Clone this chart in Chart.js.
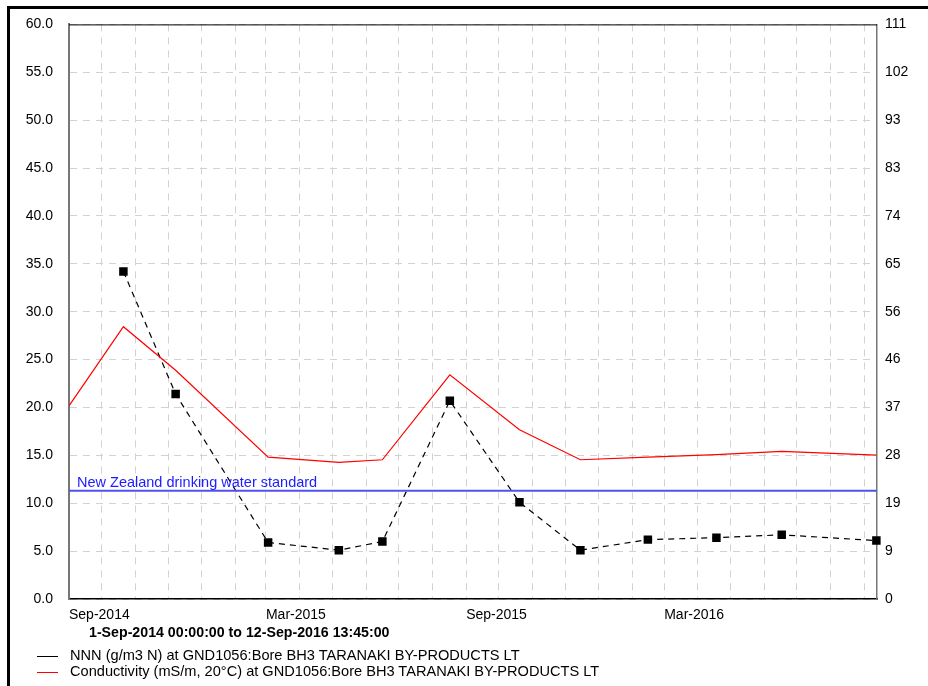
<!DOCTYPE html>
<html>
<head>
<meta charset="utf-8">
<script src="https://cdn.jsdelivr.net/npm/chart.js@4.4.0/dist/chart.umd.min.js"></script>
<style>
  html, body { margin: 0; padding: 0; background: #fff; }
  #wrap { position: relative; width: 928px; height: 686px; overflow: hidden; font-family: "Liberation Sans", Arial, sans-serif; color: #000; }
  #chart { position: absolute; left: 0; top: 0; }
  #frame { position: absolute; left: 7px; top: 6px; right: -10px; bottom: -10px; border-left: 3px solid #000; border-top: 3px solid #000; pointer-events: none; }
  .range { position: absolute; left: 89px; top: 624px; font-size: 14.2px; font-weight: bold; line-height: 16px; }
  .leg { position: absolute; left: 37px; font-size: 14.6px; line-height: 16px; white-space: nowrap; }
  .leg .ln { display: inline-block; width: 21px; border-top: 1px solid; vertical-align: middle; margin-right: 12px; }
</style>
</head>
<body>
<div id="wrap">
  <canvas id="chart" width="928" height="686"></canvas>
  <div id="frame"></div>
  <div class="range" id="range"></div>
  <div class="leg" style="top:647px"><span class="ln" style="border-color:#000"></span><span id="leg1"></span></div>
  <div class="leg" style="top:663px"><span class="ln" style="border-color:#f00"></span><span id="leg2"></span></div>
</div>
<script>
// sample dates (both series sampled on the same days)
const sampleDates = ['2014-10-21', '2014-12-08', '2015-03-03', '2015-05-07', '2015-06-16', '2015-08-17',
  '2015-10-20', '2015-12-15', '2016-02-15', '2016-04-18', '2016-06-17', '2016-09-12'];
// NNN, g/m3 N (left axis)
const nnnValues = [34.2, 21.4, 5.9, 5.1, 6.0, 20.7, 10.1, 5.1, 6.2, 6.4, 6.7, 6.1];
// conductivity, mS/m (right axis) - first value sits on the left edge
const condDates = ['2014-09-01'].concat(sampleDates);
const condValues = [37.3, 52.6, 44.2, 27.4, 26.4, 26.9, 43.3, 32.7, 26.9, 27.4, 27.9, 28.5, 27.8];

const standardValue = 11.3;
const standardLabel = 'New Zealand drinking water standard';
const nnnLabel = 'NNN (g/m3 N) at GND1056:Bore BH3 TARANAKI BY-PRODUCTS LT';
const condLabel = 'Conductivity (mS/m, 20°C) at GND1056:Bore BH3 TARANAKI BY-PRODUCTS LT';
const rangeLabel = '1-Sep-2014 00:00:00 to 12-Sep-2016 13:45:00';
const monthNames = ['Jan', 'Feb', 'Mar', 'Apr', 'May', 'Jun', 'Jul', 'Aug', 'Sep', 'Oct', 'Nov', 'Dec'];
const xTickLabels = ['Sep-2014', 'Mar-2015', 'Sep-2015', 'Mar-2016'];

const startMs = Date.UTC(2014, 8, 1);
const dayOf = s => (Date.parse(s + (s.length > 10 ? 'Z' : 'T00:00:00Z')) - startMs) / 86400000;
const xMax = dayOf('2016-09-12T13:45:00');

// monthly ticks along the bottom, only some of them labelled
const monthTicks = [];
const monthTickLabels = [];
for (let y = 2014, m = 8; ; m++) {
  if (m > 11) { m = 0; y++; }
  const d = (Date.UTC(y, m, 1) - startMs) / 86400000;
  if (d > xMax) break;
  const name = monthNames[m] + '-' + y;
  monthTicks.push(d);
  monthTickLabels.push(xTickLabels.includes(name) ? name : '');
}

document.getElementById('range').textContent = rangeLabel;
document.getElementById('leg1').textContent = nnnLabel;
document.getElementById('leg2').textContent = condLabel;

const FONT = '"Liberation Sans", Arial, sans-serif';
Chart.defaults.font.family = FONT;
Chart.defaults.font.size = 14;
Chart.defaults.color = '#000';

const extras = {
  id: 'extras',
  afterDraw(chart) {
    const { ctx, chartArea: a, scales } = chart;
    ctx.save();
    ctx.strokeStyle = '#000';
    ctx.lineWidth = 1;
    ctx.beginPath();
    ctx.moveTo(a.left, a.top + 0.5);
    ctx.lineTo(a.right, a.top + 0.5);
    ctx.stroke();
    const y = scales.y.getPixelForValue(standardValue);
    ctx.fillStyle = '#1c1cff';
    ctx.font = '14.5px ' + FONT;
    ctx.textBaseline = 'alphabetic';
    ctx.fillText(standardLabel, a.left + 8, y - 3.5);
    ctx.restore();
  }
};

const ctx = document.getElementById('chart').getContext('2d');
new Chart(ctx, {
  type: 'line',
  data: {
    datasets: [
      {
        label: standardLabel,
        data: [{ x: 0, y: standardValue }, { x: xMax, y: standardValue }],
        yAxisID: 'y',
        borderColor: 'rgb(80,80,240)',
        borderWidth: 2,
        pointRadius: 0
      },
      {
        label: condLabel,
        data: condDates.map((d, i) => ({ x: dayOf(d), y: condValues[i] })),
        yAxisID: 'y1',
        borderColor: '#ff0000',
        borderWidth: 1.2,
        pointRadius: 0,
        tension: 0
      },
      {
        label: nnnLabel,
        data: sampleDates.map((d, i) => ({ x: dayOf(d), y: nnnValues[i] })),
        yAxisID: 'y',
        borderColor: '#000',
        borderWidth: 1.2,
        borderDash: [6, 5],
        pointStyle: 'rect',
        pointRadius: 6,
        pointBackgroundColor: '#000',
        pointBorderColor: '#000',
        pointBorderWidth: 0,
        tension: 0,
        clip: 8
      }
    ]
  },
  options: {
    responsive: false,
    animation: false,
    devicePixelRatio: 1,
    layout: { padding: { top: 19, left: 0, right: 0, bottom: 0 } },
    plugins: { legend: { display: false }, tooltip: { enabled: false } },
    scales: {
      x: {
        type: 'linear',
        min: 0,
        max: xMax,
        afterFit: s => { s.height = 87; s.paddingRight = 0; s.paddingLeft = 0; },
        afterBuildTicks: s => { s.ticks = monthTicks.map(v => ({ value: v })); },
        ticks: {
          autoSkip: false,
          maxRotation: 0,
          align: 'start',
          padding: 8,
          callback: (v, i) => monthTickLabels[i]
        },
        grid: { color: '#d2d2d2', drawTicks: false },
        border: { color: '#000', width: 1.5, dash: [7, 6] }
      },
      y: {
        position: 'left',
        min: 0,
        max: 60,
        afterFit: s => { s.width = 69; },
        ticks: { stepSize: 5, padding: 16, callback: v => v.toFixed(1) },
        grid: { color: '#d2d2d2', drawTicks: false },
        border: { color: '#777', width: 2, dash: [7, 6] }
      },
      y1: {
        position: 'right',
        min: 0,
        max: 111,
        afterFit: s => { s.width = 51; },
        ticks: { stepSize: 9.25, padding: 8, callback: v => String(Math.round(v)) },
        grid: { display: false, drawTicks: false },
        border: { color: '#777', width: 1.5 }
      }
    }
  },
  plugins: [extras]
});
</script>
</body>
</html>
